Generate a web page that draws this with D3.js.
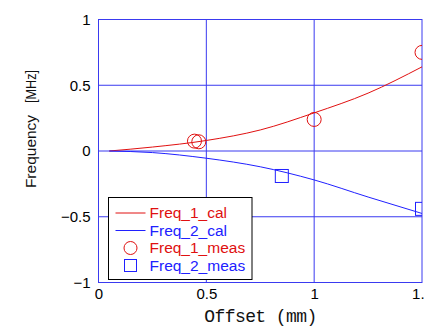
<!DOCTYPE html>
<html lang="en">
<head>
<meta charset="UTF-8">
<title>Frequency vs Offset</title>
<script src="https://cdnjs.cloudflare.com/ajax/libs/d3/7.8.5/d3.min.js"></script>
<style>
  body { margin: 0; background: #fff; }
  svg { display: block; }
</style>
</head>
<body>
<div id="chart"></div>
<script>
// calculated curves
const offsetCal = [0.05, 0.25, 0.5, 0.75, 1.0, 1.25, 1.5];
const freq1Cal = [0, 0.03, 0.08, 0.16, 0.29, 0.44, 0.64];
const freq2Cal = [0, -0.012, -0.055, -0.12, -0.22, -0.35, -0.475];

// measured points
const offset1Meas = [0.445, 0.465, 1.0, 1.5];
const freq1Meas = [0.075, 0.07, 0.24, 0.75];
const offset2Meas = [0.85, 1.5];
const freq2Meas = [-0.19, -0.44];

const xTicks = [0, 0.5, 1, 1.5];
const yTicks = [-1, -0.5, 0, 0.5, 1];
const legendItems = ["Freq_1_cal", "Freq_2_cal", "Freq_1_meas", "Freq_2_meas"];

const W = 424, H = 326;
const margin = { top: 19.5, right: 2, bottom: 43.5, left: 98.5 };
const width = W - margin.left - margin.right;
const height = H - margin.top - margin.bottom;

const RED = "#e01010", BLUE = "#2020ff", GRID = "#3a3af0";

const svg = d3.select("#chart").append("svg")
    .attr("width", W)
    .attr("height", H);

const g = svg.append("g")
    .attr("transform", `translate(${margin.left},${margin.top})`);

const x = d3.scaleLinear().domain([0, 1.5]).range([0, width]);
const y = d3.scaleLinear().domain([-1, 1]).range([height, 0]);

g.append("clipPath").attr("id", "plotclip")
  .append("rect").attr("width", width).attr("height", height);

// grid
g.selectAll(".gx").data(xTicks.slice(1, -1)).enter().append("line")
    .attr("x1", d => x(d)).attr("x2", d => x(d))
    .attr("y1", 0).attr("y2", height)
    .attr("stroke", GRID).attr("stroke-width", 1);
g.selectAll(".gy").data(yTicks.slice(1, -1)).enter().append("line")
    .attr("y1", d => y(d)).attr("y2", d => y(d))
    .attr("x1", 0).attr("x2", width)
    .attr("stroke", GRID).attr("stroke-width", 1);
g.append("rect")
    .attr("width", width).attr("height", height)
    .attr("fill", "none").attr("stroke", GRID).attr("stroke-width", 1);

// axis labels (no tick marks)
const xAxis = g.append("g")
    .attr("transform", `translate(0,${height})`)
    .call(d3.axisBottom(x).tickValues(xTicks).tickSize(0).tickPadding(6).tickFormat(d3.format("")));
xAxis.select(".domain").remove();
xAxis.selectAll("text").attr("font-family", "Liberation Sans, Arial, sans-serif")
    .attr("font-size", 15).attr("fill", "#000");

const yAxis = g.append("g")
    .call(d3.axisLeft(y).tickValues(yTicks).tickSize(0).tickPadding(8).tickFormat(d3.format("")));
yAxis.select(".domain").remove();
yAxis.selectAll("text").attr("font-family", "Liberation Sans, Arial, sans-serif")
    .attr("font-size", 15).attr("fill", "#000");

// axis titles
svg.append("text")
    .attr("x", margin.left + x(0.75) + 0.5)
    .attr("y", 322)
    .attr("text-anchor", "middle")
    .attr("font-family", "Liberation Mono, DejaVu Sans Mono, monospace")
    .attr("font-size", 18)
    .attr("fill", "#111")
    .attr("textLength", 113)
    .text("Offset (mm)");

const yTitle = svg.append("g").attr("transform", "translate(36,0) rotate(-90)")
    .attr("font-family", "Liberation Sans, Arial, sans-serif")
    .attr("fill", "#111")
    .attr("text-anchor", "middle");
yTitle.append("text").attr("x", -151.5).attr("font-size", 15.5).text("Frequency");
yTitle.append("text").attr("x", -86.5).attr("font-size", 15)
    .attr("textLength", 33).attr("lengthAdjust", "spacingAndGlyphs").text("[MHz]");

// curves
const plot = g.append("g").attr("clip-path", "url(#plotclip)");
const line = d3.line().x(d => x(d[0])).y(d => y(d[1])).curve(d3.curveMonotoneX);

plot.append("path")
    .datum(d3.zip(offsetCal, freq1Cal))
    .attr("fill", "none").attr("stroke", RED).attr("stroke-width", 1)
    .attr("d", line);
plot.append("path")
    .datum(d3.zip(offsetCal, freq2Cal))
    .attr("fill", "none").attr("stroke", BLUE).attr("stroke-width", 1)
    .attr("d", line);

plot.selectAll(".m1").data(d3.zip(offset1Meas, freq1Meas)).enter().append("circle")
    .attr("cx", d => x(d[0])).attr("cy", d => y(d[1]))
    .attr("r", 7)
    .attr("fill", "none").attr("stroke", RED).attr("stroke-width", 1);
plot.selectAll(".m2").data(d3.zip(offset2Meas, freq2Meas)).enter().append("rect")
    .attr("x", d => x(d[0]) - 6.5).attr("y", d => y(d[1]) - 6.5)
    .attr("width", 13).attr("height", 13)
    .attr("fill", "none").attr("stroke", BLUE).attr("stroke-width", 1);

// legend
const lg = svg.append("g").attr("transform", "translate(108.5,197.5)");
lg.append("rect")
    .attr("width", 143.5).attr("height", 82)
    .attr("fill", "#fff").attr("stroke", "#000").attr("stroke-width", 1);
const colors = [RED, BLUE, RED, BLUE];
const rows = lg.selectAll(".row").data(legendItems).enter().append("g")
    .attr("transform", (d, i) => `translate(0,${15.5 + i * 17.5})`);
rows.filter((d, i) => i < 2).append("line")
    .attr("x1", 7).attr("x2", 37).attr("y1", 0).attr("y2", 0)
    .attr("stroke", (d, i) => colors[i]).attr("stroke-width", 1);
rows.filter((d, i) => i === 2).append("circle")
    .attr("cx", 22).attr("cy", 0).attr("r", 6.5)
    .attr("fill", "none").attr("stroke", RED);
rows.filter((d, i) => i === 3).append("rect")
    .attr("x", 16).attr("y", -6).attr("width", 12).attr("height", 12)
    .attr("fill", "none").attr("stroke", BLUE);
rows.append("text")
    .attr("x", 41).attr("y", 0).attr("dy", "0.35em")
    .attr("font-family", "Liberation Sans, Arial, sans-serif")
    .attr("font-size", 15.5)
    .attr("fill", (d, i) => colors[i])
    .text(d => d);
</script>
</body>
</html>
